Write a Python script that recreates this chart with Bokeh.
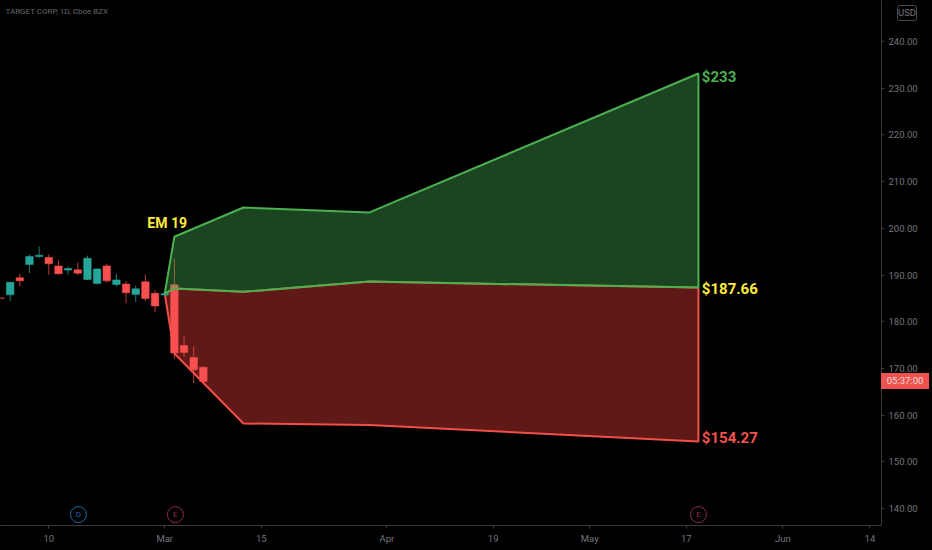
from bokeh.plotting import figure
from bokeh.layouts import column
from bokeh.models import Range1d, FixedTicker, NumeralTickFormatter, Label, GlobalInlineStyleSheet, ColumnDataSource, Div
from bokeh.core.properties import value
from bokeh.embed import file_html
from bokeh.resources import INLINE

bars = list(range(-5, 17))
opens = [185.1, 185.75, 189.4, 192.25, 193.95, 193.75, 191.95, 191.05, 191.1, 189.05, 188.2, 191.95, 187.95, 188.05, 185.8, 188.55, 186.1, 185.7, 187.9, 174.9, 172.35, 170.25]
closes = [185.0, 188.45, 188.75, 193.95, 194.25, 192.4, 190.25, 191.4, 190.4, 193.6, 191.3, 188.75, 188.95, 186.2, 187.05, 184.95, 183.35, 186.0, 173.3, 173.4, 169.7, 167.2]
highs = [185.2, 188.45, 190.25, 194.4, 196.1, 194.4, 193.1, 191.8, 192.67, 194.15, 191.45, 192.4, 190.25, 188.7, 187.75, 190.1, 186.7, 186.2, 193.45, 176.85, 174.75, 170.45]
lows = [184.9, 184.4, 187.6, 190.4, 193.67, 190.05, 190.1, 190.1, 189.95, 188.9, 187.95, 188.4, 187.55, 183.95, 184.2, 184.4, 182.05, 185.5, 172.05, 172.4, 166.85, 167.05]

band_x = [12, 13, 20.15, 33.2, 67.25]
upper = [186.0, 198.2, 204.45, 203.4, 233.15]
middle = [186.0, 187.1, 186.4, 188.6, 187.3]
lower = [186.0, 173.2, 158.2, 157.9, 154.35]

x_ticks = [0, 12, 22, 35, 46, 56, 66, 76, 85]
x_labels = ["10", "Mar", "15", "Apr", "19", "May", "17", "Jun", "14"]
y_ticks = [140, 150, 160, 170, 180, 190, 200, 210, 220, 230, 240]

event_x = [3.07, 13.1, 67.25]
event_labels = ["D", "E", "E"]
event_colors = ["#1c6aa6", "#8e2f42", "#8e2f42"]
EVENT_PRICE = 138.7

TEAL, RED, GREEN, YELLOW = "#26a69a", "#f9504f", "#4caf50", "#ffeb3b"
UI_FONT = "Roboto"
TEXT_FONT = value("Roboto")

p = figure(width=932, height=550, output_backend="svg", toolbar_location=None,
           x_range=Range1d(-5, 86.2), y_range=Range1d(136.36, 248.78),
           background_fill_color="#000000", border_fill_color="#000000",
           min_border_left=0, min_border_top=0, min_border_right=51, min_border_bottom=25,
           y_axis_location="right", outline_line_color=None)
p.grid.visible = False

for ax in (p.xaxis[0], p.yaxis[0]):
    ax.axis_line_color = "#3a3a3a"
    ax.major_tick_line_color = "#3a3a3a"
    ax.major_tick_out = 3
    ax.major_tick_in = 0
    ax.minor_tick_line_color = None
    ax.major_label_text_color = "#74767c"
    ax.major_label_text_font = UI_FONT
    ax.major_label_text_font_size = "9.5px"
    ax.major_label_standoff = 4
p.xaxis[0].ticker = FixedTicker(ticks=x_ticks)
p.xaxis[0].major_label_overrides = dict(zip(x_ticks, x_labels))
p.yaxis[0].ticker = FixedTicker(ticks=y_ticks)
p.yaxis[0].formatter = NumeralTickFormatter(format="0.00")

# lower band
p.patch(band_x + band_x[::-1], lower + middle[::-1], fill_color="#fa443c", fill_alpha=0.38,
        line_color="#f44e48", line_width=2)

# candles
colors = [TEAL if c > o else RED for o, c in zip(opens, closes)]
src = ColumnDataSource(dict(x=bars, o=opens, c=closes, h=highs, l=lows, col=colors))
p.segment("x", "h", "x", "l", source=src, line_color="col", line_width=1, line_alpha=0.75)
p.vbar("x", 0.78, "o", "c", source=src, fill_color="col", line_color="col", line_width=0.5)

# upper band
p.patch(band_x + band_x[::-1], upper + middle[::-1], fill_color="#47c05a", fill_alpha=0.36,
        line_color=GREEN, line_width=2)

# callouts
p.text([10.2], [201.2], text=["EM 19"], text_color=YELLOW, text_font=TEXT_FONT, text_font_style="bold",
       text_font_size="14px", text_baseline="middle", text_align="left")
p.text([67.6], [232.5], text=["$233"], text_color=GREEN, text_font=TEXT_FONT, text_font_style="bold",
       text_font_size="15px", text_baseline="middle", text_align="left")
p.text([67.6], [186.9], text=["$187.66"], text_color=YELLOW, text_font=TEXT_FONT, text_font_style="bold",
       text_font_size="15px", text_baseline="middle", text_align="left")
p.text([67.6], [155.0], text=["$154.27"], text_color="#f4524d", text_font=TEXT_FONT, text_font_style="bold",
       text_font_size="15px", text_baseline="middle", text_align="left")

# event markers
prices = [EVENT_PRICE] * len(event_x)
p.scatter(event_x, prices, size=16, marker="circle", fill_color=None, line_color=event_colors, line_width=1)
p.text(event_x, prices, text=event_labels, text_color=event_colors, text_font=TEXT_FONT,
       text_font_size="8px", text_align="center", text_baseline="middle")

# header
p.add_layout(Label(x=5, y=514, x_units="screen", y_units="screen", text="TARGET CORP, 1D, Cboe BZX",
                   text_color="#66686e", text_font=UI_FONT, text_font_size="8px",
                   text_baseline="middle"))

# currency box and countdown tag sit over the axis area
base = {"position": "absolute", "z-index": "5", "font-family": "Roboto", "font-size": "9.5px",
        "text-align": "center", "box-sizing": "border-box", "margin": "0"}
usd = Div(text="USD", styles={**base, "left": "897px", "top": "5px", "width": "20px", "height": "16px",
                              "line-height": "14px", "color": "#74767c", "border": "1px solid #4a4a4a",
                              "border-radius": "3px"})
tag = Div(text="05:37:00", styles={**base, "left": "881px", "top": "373px", "width": "48px", "height": "16px",
                                   "line-height": "16px", "color": "#f3d9d9", "background": "#ef5350"})

page = column(p, usd, tag, spacing=0, width=932, height=550,
              stylesheets=[GlobalInlineStyleSheet(css="html,body{margin:0;padding:0;background:#000;overflow:hidden}")])
open("out.html", "w").write(file_html(page, INLINE))
